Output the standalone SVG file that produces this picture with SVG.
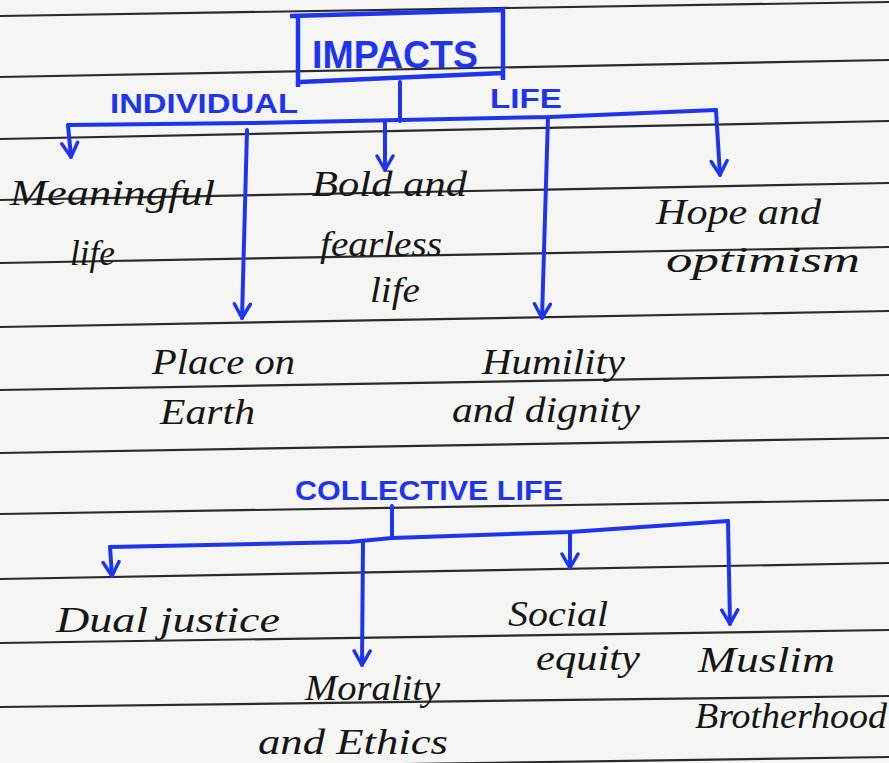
<svg xmlns="http://www.w3.org/2000/svg" width="889" height="763" viewBox="0 0 889 763">
<defs>
<style>
.bg{fill:#f5f5f3}
.rule{stroke:#2a2a2a;stroke-width:2.2;fill:none}
.con{stroke:#1f35ec;stroke-width:4;fill:none;stroke-linecap:round;stroke-linejoin:round}
.box{stroke:#1f35ec;stroke-width:4.5;fill:none;stroke-linejoin:round}
.hd{font-family:"Liberation Sans","DejaVu Sans",sans-serif;fill:#1f35ec;font-weight:bold}
.hw{font-family:"Liberation Serif","DejaVu Serif",serif;font-style:italic;fill:#151515;font-size:35px}
</style>
<marker id="v" viewBox="-16 -10 20 20" markerWidth="20" markerHeight="20" refX="0" refY="0" orient="auto" markerUnits="userSpaceOnUse">
<path d="M-14,-8 L0,0 L-14,8" fill="none" stroke="#1f35ec" stroke-width="3.5" stroke-linecap="round" stroke-linejoin="round"/>
</marker>
</defs>
<rect class="bg" x="0" y="0" width="889" height="763"/>
<g id="ruling">
<line class="rule" x1="0" y1="16" x2="889" y2="2"/>
<line class="rule" x1="0" y1="77" x2="889" y2="60"/>
<line class="rule" x1="0" y1="139" x2="889" y2="121"/>
<line class="rule" x1="0" y1="200" x2="889" y2="183"/>
<line class="rule" x1="0" y1="263" x2="889" y2="247"/>
<line class="rule" x1="0" y1="327" x2="889" y2="311"/>
<line class="rule" x1="0" y1="390" x2="889" y2="375"/>
<line class="rule" x1="0" y1="453" x2="889" y2="438"/>
<line class="rule" x1="0" y1="514" x2="889" y2="500"/>
<line class="rule" x1="0" y1="579" x2="889" y2="563"/>
<line class="rule" x1="0" y1="643" x2="889" y2="630"/>
<line class="rule" x1="0" y1="707" x2="889" y2="696"/>
<line class="rule" x1="0" y1="770" x2="889" y2="757"/>
</g>
<g id="connectors">
<path class="con" d="M400,82 L400,121"/>
<path class="con" d="M68,125 L250,123 L400,120 L550,117 L716,110"/>
<path class="con" d="M68,125 L71,157" marker-end="url(#v)"/>
<path class="con" d="M247,130 L242,318" marker-end="url(#v)"/>
<path class="con" d="M385,122 L385,170" marker-end="url(#v)"/>
<path class="con" d="M548,117 L542,318" marker-end="url(#v)"/>
<path class="con" d="M716,110 L720,175" marker-end="url(#v)"/>
<path class="con" d="M392,506 L392,538"/>
<path class="con" d="M110,547 L350,542 L392,538 L570,532 L728,521"/>
<path class="con" d="M110,547 L112,576" marker-end="url(#v)"/>
<path class="con" d="M363,541 L362,665" marker-end="url(#v)"/>
<path class="con" d="M570,532 L570,568" marker-end="url(#v)"/>
<path class="con" d="M728,521 L730,624" marker-end="url(#v)"/>
</g>
<g id="impacts">
<path class="box" d="M290,16 L505,10 M298,15 L298,87 M300,82 L503,73 M503,10 L503,80"/>
<text class="hd" x="312" y="68" font-size="38" textLength="166" lengthAdjust="spacingAndGlyphs">IMPACTS</text>
</g>
<g id="individual-life">
<text class="hd" x="110" y="113" font-size="28" textLength="188" lengthAdjust="spacingAndGlyphs">INDIVIDUAL</text>
<text class="hd" x="490" y="108" font-size="28" textLength="72" lengthAdjust="spacingAndGlyphs">LIFE</text>
</g>
<g id="meaningful-life">
<text class="hw" x="10" y="205" textLength="205" lengthAdjust="spacingAndGlyphs">Meaningful</text>
<text class="hw" x="70" y="265" textLength="45" lengthAdjust="spacingAndGlyphs">life</text>
</g>
<g id="bold-fearless">
<text class="hw" x="312" y="196" textLength="155" lengthAdjust="spacingAndGlyphs">Bold and</text>
<text class="hw" x="320" y="256" textLength="122" lengthAdjust="spacingAndGlyphs">fearless</text>
<text class="hw" x="370" y="302" textLength="50" lengthAdjust="spacingAndGlyphs">life</text>
</g>
<g id="hope-optimism">
<text class="hw" x="656" y="224" textLength="165" lengthAdjust="spacingAndGlyphs">Hope and</text>
<text class="hw" x="666" y="272" textLength="194" lengthAdjust="spacingAndGlyphs">optimism</text>
</g>
<g id="place-on-earth">
<text class="hw" x="152" y="374" textLength="143" lengthAdjust="spacingAndGlyphs">Place on</text>
<text class="hw" x="160" y="424" textLength="95" lengthAdjust="spacingAndGlyphs">Earth</text>
</g>
<g id="humility-dignity">
<text class="hw" x="482" y="374" textLength="143" lengthAdjust="spacingAndGlyphs">Humility</text>
<text class="hw" x="452" y="422" textLength="188" lengthAdjust="spacingAndGlyphs">and dignity</text>
</g>
<g id="collective-life">
<text class="hd" x="295" y="500" font-size="28" textLength="268" lengthAdjust="spacingAndGlyphs">COLLECTIVE  LIFE</text>
</g>
<g id="dual-justice">
<text class="hw" x="56" y="632" textLength="224" lengthAdjust="spacingAndGlyphs">Dual justice</text>
</g>
<g id="morality-ethics">
<text class="hw" x="305" y="700" textLength="135" lengthAdjust="spacingAndGlyphs">Morality</text>
<text class="hw" x="258" y="754" textLength="190" lengthAdjust="spacingAndGlyphs">and Ethics</text>
</g>
<g id="social-equity">
<text class="hw" x="508" y="626" textLength="100" lengthAdjust="spacingAndGlyphs">Social</text>
<text class="hw" x="536" y="670" textLength="104" lengthAdjust="spacingAndGlyphs">equity</text>
</g>
<g id="muslim-brotherhood">
<text class="hw" x="698" y="672" textLength="137" lengthAdjust="spacingAndGlyphs">Muslim</text>
<text class="hw" x="695" y="728" textLength="192" lengthAdjust="spacingAndGlyphs">Brotherhood</text>
</g>
</svg>
